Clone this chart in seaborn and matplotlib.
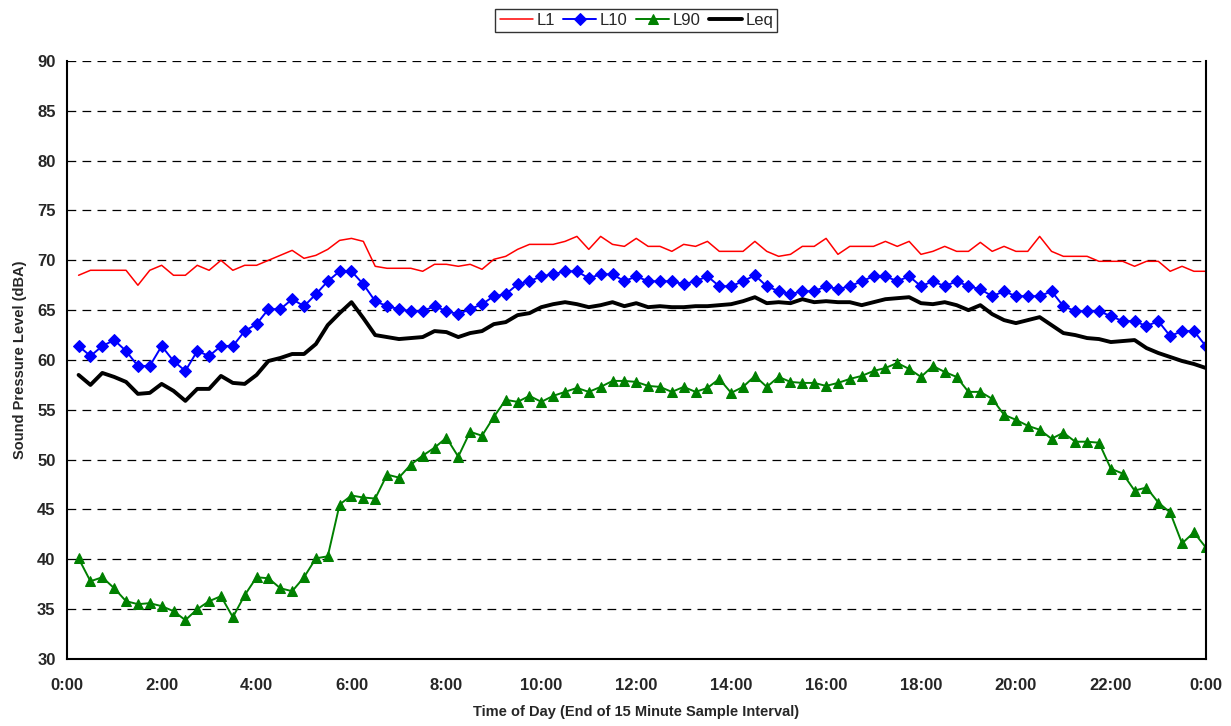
import numpy as np
import pandas as pd
import matplotlib
matplotlib.use("Agg")
import matplotlib.pyplot as plt
import matplotlib.ticker as ticker
import seaborn as sns

# 15-minute intervals, end of interval (0:15 .. 24:00)
hours = np.arange(1, 97) * 0.25

L1 = [68.5, 69, 69, 69, 69, 67.5, 69, 69.5, 68.5, 68.5, 69.5, 69, 70, 69, 69.5, 69.5, 70, 70.5, 71, 70.2, 70.5, 71.1, 72, 72.2,
      71.9, 69.4, 69.2, 69.2, 69.2, 68.9, 69.6, 69.6, 69.4, 69.6, 69.1, 70.1, 70.4, 71.1, 71.6, 71.6, 71.6, 71.9, 72.4, 71.1, 72.4, 71.6, 71.4, 72.2,
      71.4, 71.4, 70.9, 71.6, 71.4, 71.9, 70.9, 70.9, 70.9, 71.9, 70.9, 70.4, 70.6, 71.4, 71.4, 72.2, 70.6, 71.4, 71.4, 71.4, 71.9, 71.4, 71.9, 70.6,
      70.9, 71.4, 70.9, 70.9, 71.8, 70.9, 71.4, 70.9, 70.9, 72.4, 70.9, 70.4, 70.4, 70.4, 69.9, 69.9, 69.9, 69.4, 69.9, 69.9, 68.9, 69.4, 68.9, 68.9]

L10 = [61.4, 60.4, 61.4, 62.0, 60.9, 59.4, 59.4, 61.4, 59.9, 58.9, 60.9, 60.4, 61.4, 61.4, 62.9, 63.6, 65.1, 65.1, 66.1, 65.4, 66.6, 67.9, 68.9, 68.9,
       67.6, 65.9, 65.4, 65.1, 64.9, 64.9, 65.4, 64.9, 64.6, 65.1, 65.6, 66.4, 66.6, 67.6, 67.9, 68.4, 68.6, 68.9, 68.9, 68.2, 68.6, 68.6, 67.9, 68.4,
       67.9, 67.9, 67.9, 67.6, 67.9, 68.4, 67.4, 67.4, 67.9, 68.5, 67.4, 66.9, 66.6, 66.9, 66.9, 67.4, 67.1, 67.4, 67.9, 68.4, 68.4, 67.9, 68.4, 67.4,
       67.9, 67.4, 67.9, 67.4, 67.1, 66.4, 66.9, 66.4, 66.4, 66.4, 66.9, 65.4, 64.9, 64.9, 64.9, 64.4, 63.9, 63.9, 63.4, 63.9, 62.4, 62.9, 62.9, 61.4]

L90 = [40.1, 37.8, 38.2, 37.1, 35.8, 35.5, 35.6, 35.3, 34.8, 33.9, 35.0, 35.8, 36.3, 34.2, 36.4, 38.2, 38.1, 37.1, 36.8, 38.2, 40.1, 40.3, 45.5, 46.4,
       46.2, 46.1, 48.5, 48.2, 49.5, 50.4, 51.2, 52.2, 50.3, 52.8, 52.4, 54.3, 56.0, 55.8, 56.4, 55.8, 56.4, 56.8, 57.2, 56.8, 57.3, 57.9, 57.9, 57.8,
       57.4, 57.3, 56.8, 57.3, 56.8, 57.2, 58.1, 56.7, 57.3, 58.4, 57.3, 58.3, 57.8, 57.7, 57.7, 57.4, 57.7, 58.1, 58.4, 58.9, 59.2, 59.7, 59.1, 58.3,
       59.4, 58.8, 58.3, 56.8, 56.8, 56.1, 54.5, 54.0, 53.4, 53.0, 52.1, 52.7, 51.8, 51.8, 51.7, 49.1, 48.6, 46.9, 47.2, 45.7, 44.7, 41.6, 42.7, 41.2]

Leq = [58.5, 57.5, 58.7, 58.3, 57.8, 56.6, 56.7, 57.6, 56.9, 55.9, 57.1, 57.1, 58.4, 57.7, 57.6, 58.5, 59.9, 60.2, 60.6, 60.6, 61.6, 63.5, 64.7, 65.8,
       64.2, 62.5, 62.3, 62.1, 62.2, 62.3, 62.9, 62.8, 62.3, 62.7, 62.9, 63.6, 63.8, 64.5, 64.7, 65.3, 65.6, 65.8, 65.6, 65.3, 65.5, 65.8, 65.4, 65.7,
       65.3, 65.4, 65.3, 65.3, 65.4, 65.4, 65.5, 65.6, 65.9, 66.3, 65.7, 65.8, 65.7, 66.1, 65.8, 65.9, 65.8, 65.8, 65.5, 65.8, 66.1, 66.2, 66.3, 65.7,
       65.6, 65.8, 65.5, 65.0, 65.5, 64.6, 64.0, 63.7, 64.0, 64.3, 63.5, 62.7, 62.5, 62.2, 62.1, 61.8, 61.9, 62.0, 61.2, 60.7, 60.3, 59.9, 59.6, 59.2]

tick_hours = list(range(0, 25, 2))
tick_labels = ["0:00", "2:00", "4:00", "6:00", "8:00", "10:00", "12:00",
               "14:00", "16:00", "18:00", "20:00", "22:00", "0:00"]

df = pd.DataFrame({"Hour": hours, "L1": L1, "L10": L10, "L90": L90, "Leq": Leq})

sns.set_style("white")
plt.rcParams['font.family'] = ['Liberation Sans', 'DejaVu Sans']

fig = plt.figure(figsize=(12.31, 7.26), dpi=100)
ax = fig.add_axes([0.0542, 0.0923, 0.9253, 0.8237])

sns.lineplot(data=df, x="Hour", y="L1", ax=ax, color="#FF0000", linewidth=1.1, label="L1")
sns.lineplot(data=df, x="Hour", y="L10", ax=ax, color="#0000FF", linewidth=1.4,
             marker="D", markersize=6, markeredgecolor="#0000FF", label="L10")
sns.lineplot(data=df, x="Hour", y="L90", ax=ax, color="#008000", linewidth=1.4,
             marker="^", markersize=7.5, markeredgecolor="#008000", label="L90")
sns.lineplot(data=df, x="Hour", y="Leq", ax=ax, color="black", linewidth=2.8, label="Leq")

ax.set_xlim(0, 24)
ax.set_ylim(30, 90)
ax.set_xticks(tick_hours)
ax.set_xticklabels(tick_labels, fontsize=12, fontweight="bold")
ax.xaxis.set_minor_locator(ticker.MultipleLocator(0.25))
ax.yaxis.set_major_locator(ticker.MultipleLocator(5))
ax.yaxis.set_minor_locator(ticker.MultipleLocator(1))
for lab in ax.get_yticklabels():
    lab.set_fontsize(12)
    lab.set_fontweight("bold")

ax.tick_params(axis="x", which="major", direction="inout", length=9, width=1.2, pad=9)
ax.tick_params(axis="x", which="minor", direction="inout", length=5, width=1)
ax.tick_params(axis="y", which="major", direction="out", length=5, width=1.2, pad=3)
ax.tick_params(axis="y", which="minor", direction="out", length=4, width=1)

ax.yaxis.grid(True, which="major", linestyle=(0, (7, 5)), color="black", linewidth=0.9)
ax.set_axisbelow(True)

for side in ["left", "bottom", "right"]:
    ax.spines[side].set_color("black")
    ax.spines[side].set_linewidth(1.5)
ax.spines["top"].set_visible(False)

ax.set_xlabel("Time of Day (End of 15 Minute Sample Interval)", fontsize=10.5, fontweight="bold", labelpad=9)
ax.set_ylabel("Sound Pressure Level (dBA)", fontsize=10.5, fontweight="bold", labelpad=7)

handles, labels = ax.get_legend_handles_labels()
ax.get_legend().remove()
leg = fig.legend(handles, labels, loc="upper center", bbox_to_anchor=(0.517, 0.999), ncol=4,
                 fontsize=12, frameon=True, fancybox=False, edgecolor="black",
                 handlelength=2.0, handletextpad=0.2, columnspacing=0.5, borderpad=0.25)
leg.get_frame().set_linewidth(1.0)

fig.savefig("out.png", dpi=100)
